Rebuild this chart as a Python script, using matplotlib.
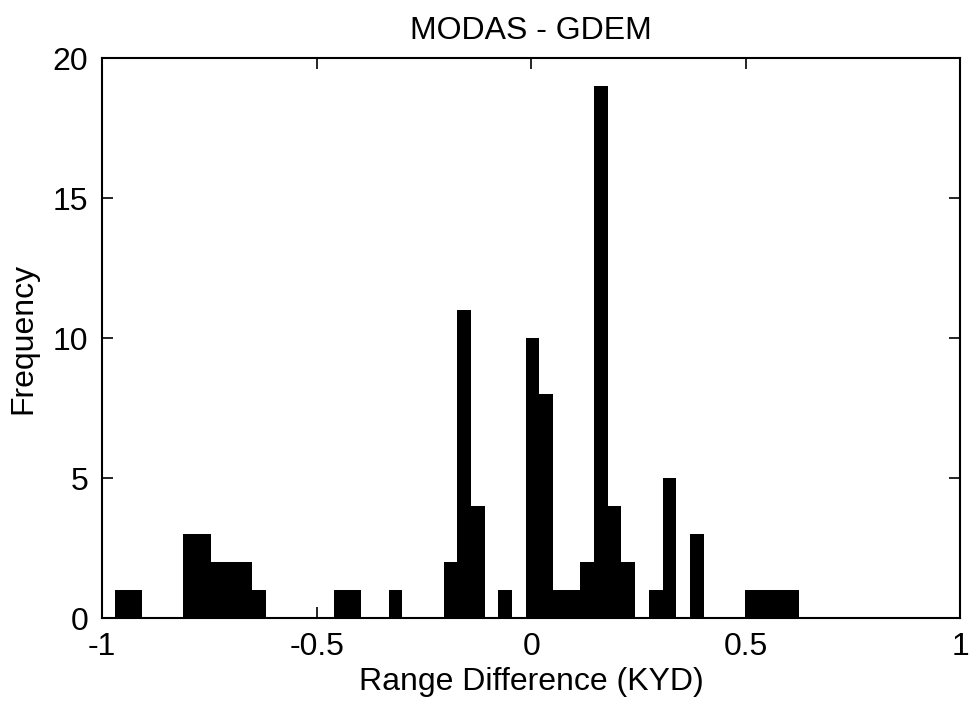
# MODAS - GDEM range difference histogram

import numpy as np
import matplotlib.pyplot as plt

plt.rcParams['font.family'] = ['Liberation Sans', 'DejaVu Sans']
plt.rcParams['axes.unicode_minus'] = False

# 50 bins between min and max of the differences (KYD)
x_min = -0.970
x_max = 0.625
n_bins = 50

counts = [1, 1, 0, 0, 0, 3, 3, 2, 2, 2,
          1, 0, 0, 0, 0, 0, 1, 1, 0, 0,
          1, 0, 0, 0, 2, 11, 4, 0, 1, 0,
          10, 8, 1, 1, 2, 19, 4, 2, 0, 1,
          5, 0, 3, 0, 0, 0, 1, 1, 1, 1]

xticks = [-1, -0.5, 0, 0.5, 1]
xticklabels = ['-1', '-0.5', '0', '0.5', '1']
yticks = [0, 5, 10, 15, 20]

edges = np.linspace(x_min, x_max, n_bins + 1)

fig = plt.figure(figsize=(9.73, 7.17), dpi=100)
ax = fig.add_axes([0.105, 0.138, 0.882, 0.781])

# draw as one filled step shape so the bars have no seams between them
ax.stairs(counts, edges, fill=True, color='black', linewidth=0)

ax.set_xlim(-1, 1)
ax.set_ylim(0, 20)
ax.set_xticks(xticks)
ax.set_xticklabels(xticklabels)
ax.set_yticks(yticks)
ax.tick_params(direction='in', length=8, width=1.2, top=True, right=True, labelsize=23, pad=10)
for s in ax.spines.values():
    s.set_linewidth(1.5)

ax.set_title('MODAS - GDEM', fontsize=23, pad=14)
ax.set_xlabel('Range Difference (KYD)', fontsize=23, labelpad=4)
ax.set_ylabel('Frequency', fontsize=23, labelpad=10)

fig.savefig('out.png', dpi=100)
